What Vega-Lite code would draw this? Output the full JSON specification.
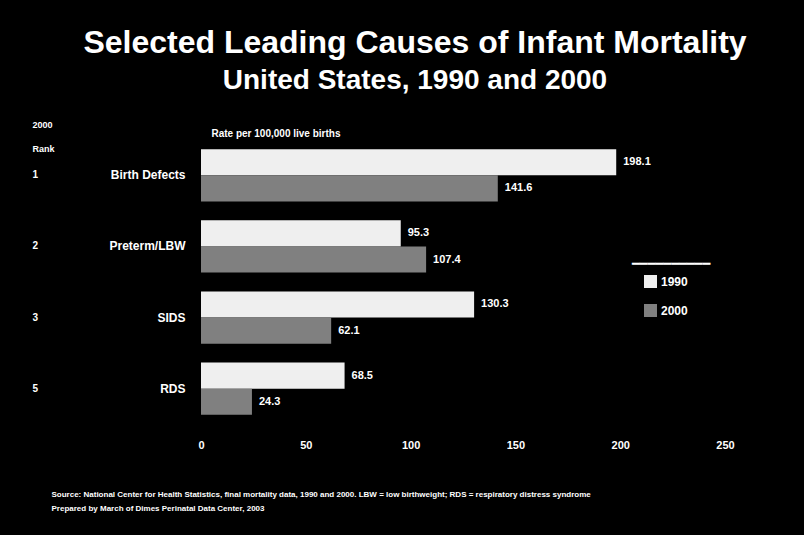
{
  "$schema": "https://vega.github.io/schema/vega-lite/v6.json",
  "width": 524,
  "height": 284,
  "autosize": {"type": "none"},
  "padding": {"left": 201, "top": 140, "right": 79, "bottom": 111},
  "background": "#000000",
  "config": {
    "view": {"stroke": null},
    "font": "Liberation Sans"
  },
  "title": {
    "text": "Selected Leading Causes of Infant Mortality",
    "subtitle": "United States, 1990 and 2000",
    "color": "#ffffff",
    "subtitleColor": "#ffffff",
    "fontSize": 32,
    "fontWeight": "bold",
    "subtitleFontSize": 28,
    "subtitleFontWeight": "bold",
    "subtitlePadding": 7,
    "anchor": "middle",
    "dx": -48,
    "offset": 24,
    "font": "Liberation Sans",
    "subtitleFont": "Liberation Sans"
  },
  "data": {
    "values": [
      {"cause": "Birth Defects", "year": "1990", "value": 198.1, "rank": "1"},
      {"cause": "Birth Defects", "year": "2000", "value": 141.6, "rank": "1"},
      {"cause": "Preterm/LBW", "year": "1990", "value": 95.3, "rank": "2"},
      {"cause": "Preterm/LBW", "year": "2000", "value": 107.4, "rank": "2"},
      {"cause": "SIDS", "year": "1990", "value": 130.3, "rank": "3"},
      {"cause": "SIDS", "year": "2000", "value": 62.1, "rank": "3"},
      {"cause": "RDS", "year": "1990", "value": 68.5, "rank": "5"},
      {"cause": "RDS", "year": "2000", "value": 24.3, "rank": "5"}
    ]
  },
  "resolve": {"axis": {"x": "independent", "y": "independent"}},
  "layer": [
    {
      "mark": {"type": "bar"},
      "encoding": {
        "y": {
          "field": "cause", "type": "nominal", "sort": null,
          "scale": {"paddingInner": 0.265, "paddingOuter": 0.13},
          "axis": {
            "orient": "left", "title": null, "ticks": false, "domain": false,
            "labelColor": "#ffffff", "labelFontSize": 12, "labelFontWeight": "bold",
            "labelPadding": 16
          }
        },
        "x": {
          "field": "value", "type": "quantitative",
          "scale": {"domain": [0, 250], "nice": false},
          "axis": {
            "orient": "bottom", "values": [0, 50, 100, 150, 200, 250],
            "grid": false, "ticks": false, "domain": false, "labelFlush": false,
            "labelColor": "#ffffff", "labelFontSize": 11, "labelFontWeight": "bold",
            "labelPadding": 15,
            "title": "Rate per 100,000 live births",
            "titleColor": "#ffffff", "titleFontSize": 10, "titleFontWeight": "bold",
            "titleX": 10, "titleY": -291, "titleAlign": "left", "titleBaseline": "middle"
          }
        },
        "yOffset": {"field": "year", "type": "nominal", "scale": {"paddingInner": 0, "paddingOuter": 0}},
        "color": {
          "field": "year", "type": "nominal",
          "scale": {"domain": ["1990", "2000"], "range": ["#efefef", "#808080"]},
          "legend": {
            "orient": "none", "legendX": 431, "legendY": 118,
            "title": "━━━━━━━━━━",
            "titleColor": "#ffffff", "titleFontSize": 13, "titleFont": "DejaVu Sans",
            "titleFontWeight": "normal", "titlePadding": 4,
            "symbolType": "square", "symbolSize": 169, "symbolStrokeWidth": 0,
            "symbolOpacity": 1, "symbolOffset": 12,
            "labelColor": "#ffffff", "labelFontSize": 12, "labelFontWeight": "bold",
            "labelOffset": 4, "rowPadding": 16
          }
        }
      }
    },
    {
      "mark": {"type": "text", "align": "left", "baseline": "middle", "dx": 7, "color": "#ffffff", "fontSize": 11, "fontWeight": "bold"},
      "encoding": {
        "y": {
          "field": "cause", "type": "nominal", "sort": null,
          "axis": {
            "orient": "left", "ticks": false, "domain": false,
            "labelExpr": "datum.value == 'Birth Defects' ? '1' : datum.value == 'Preterm/LBW' ? '2' : datum.value == 'SIDS' ? '3' : '5'",
            "labelAlign": "left", "labelPadding": 169,
            "labelColor": "#ffffff", "labelFontSize": 10, "labelFontWeight": "bold",
            "title": ["2000", "Rank"], "titleAngle": 0, "titleX": -169, "titleY": -20,
            "titleAlign": "left", "titleBaseline": "top", "titleLineHeight": 24,
            "titleColor": "#ffffff", "titleFontSize": 9, "titleFontWeight": "bold"
          }
        },
        "x": {
          "field": "value", "type": "quantitative",
          "axis": {
            "orient": "bottom", "labels": false, "ticks": false, "domain": false, "grid": false,
            "title": [
              "Source: National Center for Health Statistics, final mortality data, 1990 and 2000. LBW = low birthweight; RDS = respiratory distress syndrome",
              "Prepared by March of Dimes Perinatal Data Center, 2003"
            ],
            "titleX": -150, "titleY": 66, "titleAlign": "left", "titleBaseline": "top",
            "titleColor": "#ffffff", "titleFontSize": 8, "titleFontWeight": "bold", "titleLineHeight": 14
          }
        },
        "yOffset": {"field": "year", "type": "nominal"},
        "text": {"field": "value", "type": "quantitative", "format": ".1f"}
      }
    }
  ]
}
